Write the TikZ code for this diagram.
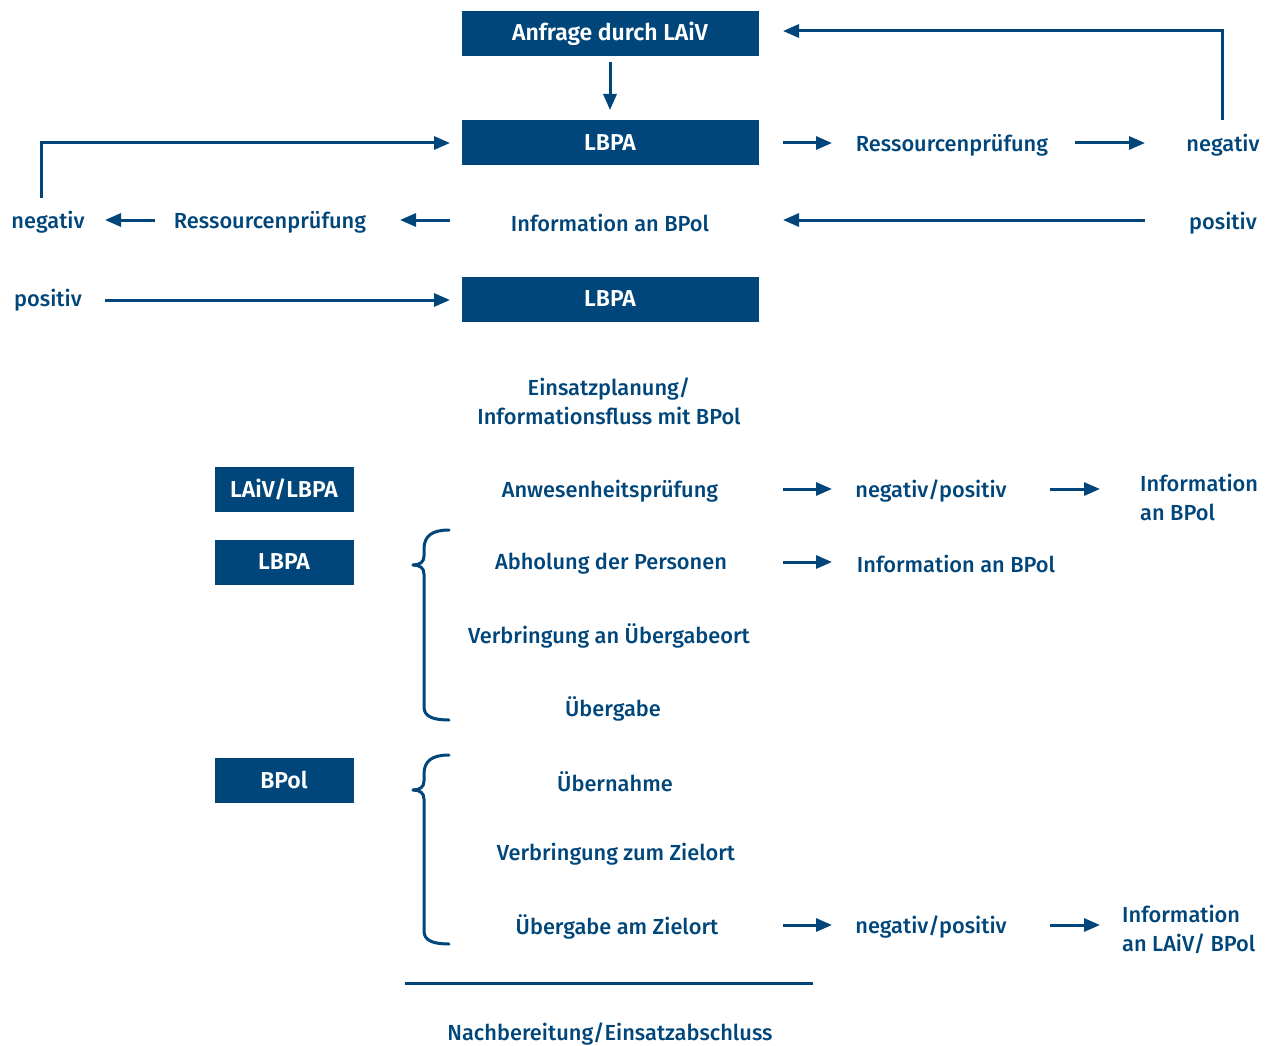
\documentclass[tikz,border=0pt]{standalone}
\usepackage{fontspec}
\setmainfont{Fira Sans}[UprightFont={* Medium}, BoldFont={* SemiBold}]
\usetikzlibrary{arrows.meta}
\definecolor{bblue}{RGB}{0,70,122}
\tikzset{
  txt/.style={text=bblue, font=\fontsize{21.8}{29}\selectfont, inner sep=0pt},
  bigbox/.style={fill=bblue, text=white, font=\fontsize{23}{24}\selectfont\bfseries, minimum width=297pt, minimum height=45pt, inner sep=0pt},
  smallbox/.style={bigbox, minimum width=139pt},
  conn/.style={draw=bblue, line width=3pt},
  arr/.style={conn, -{Triangle[length=16pt,width=13pt]}},
  brace/.style={draw=bblue, line width=3pt, line cap=round}
}
\begin{document}
\begin{tikzpicture}[x=1pt,y=-1pt]
\useasboundingbox (0,0) rectangle (1278,1046);
% boxes
\node[bigbox] (b1) at (610,34) {Anfrage durch LAiV};
\node[bigbox] (b2) at (610,143) {LBPA};
\node[bigbox] (b3) at (610,299) {LBPA};
\node[smallbox] (b4) at (284,489) {LAiV/LBPA};
\node[smallbox] (b5) at (284,562) {LBPA};
\node[smallbox] (b6) at (284,780) {BPol};
% texts
\node[txt] (res1) at (952,145) {Ressourcenprüfung};
\node[txt] (neg1) at (1223,145) {negativ};
\node[txt] (info1) at (610,223) {Information an BPol};
\node[txt] (res2) at (270,222) {Ressourcenprüfung};
\node[txt] (neg2) at (48,222) {negativ};
\node[txt] (pos1) at (1223,223) {positiv};
\node[txt] (pos2) at (48,300) {positiv};
\node[txt, align=center] (plan) at (609,401) {Einsatzplanung/\\Informationsfluss mit BPol};
\node[txt] (anw) at (610,491) {Anwesenheitsprüfung};
\node[txt] (np1) at (931,491) {negativ/positiv};
\node[txt, align=left, anchor=west] (inf2) at (1140,497) {Information\\an BPol};
\node[txt] (abh) at (611,564) {Abholung der Personen};
\node[txt] (inf3) at (956,564) {Information an BPol};
\node[txt] (verb1) at (609,636) {Verbringung an Übergabeort};
\node[txt] (ueb) at (613,709) {Übergabe};
\node[txt] (uebn) at (615,782) {Übernahme};
\node[txt] (verb2) at (616,854) {Verbringung zum Zielort};
\node[txt] (uebz) at (617,927) {Übergabe am Zielort};
\node[txt] (np2) at (931,927) {negativ/positiv};
\node[txt, align=left, anchor=west] (inf4) at (1122,929) {Information\\an LAiV/ BPol};
\node[txt] (nach) at (610,1034) {Nachbereitung/Einsatzabschluss};
% connectors
\draw[arr] (b1.south |- 0,62) -- (b2.north |- 0,110);
\draw[arr] (783,143) -- (832,143);
\draw[arr] (1075,143) -- (1145,143);
\draw[arr] (1222,120) -- (1222,31) -- (783,31);
\draw[arr] (41,198) -- (41,143) -- (450,143);
\draw[arr] (1145,220) -- (783,220);
\draw[arr] (450,220) -- (400,220);
\draw[arr] (155,220) -- (105,220);
\draw[arr] (105,300) -- (450,300);
\draw[arr] (783,489) -- (832,489);
\draw[arr] (1050,489) -- (1100,489);
\draw[arr] (783,562) -- (832,562);
\draw[arr] (783,925) -- (832,925);
\draw[arr] (1050,925) -- (1100,925);
\draw[conn] (405,983) -- (813,983);
% braces
\draw[brace] (449,530) .. controls (432,530) and (424,536) .. (424,549) -- (424,556) .. controls (424,562) and (420,565) .. (413,565);
\draw[brace] (413,565) .. controls (420,565) and (424,568) .. (424,574) -- (424,707) .. controls (424,716) and (432,720) .. (449,720);
\draw[brace] (449,755) .. controls (432,755) and (424,761) .. (424,774) -- (424,781) .. controls (424,787) and (420,790) .. (413,790);
\draw[brace] (413,790) .. controls (420,790) and (424,793) .. (424,799) -- (424,931) .. controls (424,940) and (432,944) .. (449,944);
\end{tikzpicture}
\end{document}
